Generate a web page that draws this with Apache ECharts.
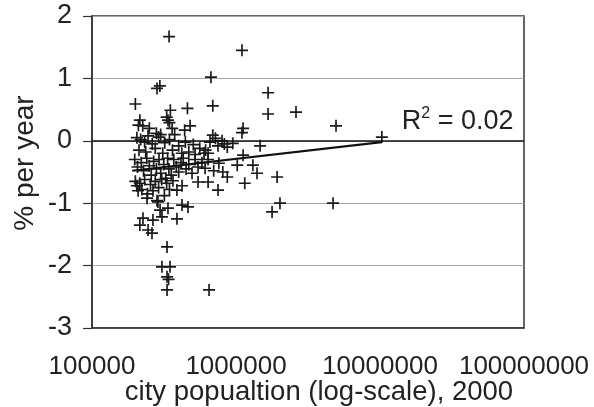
<!DOCTYPE html>
<html>
<head>
<meta charset="utf-8">
<script src="https://cdn.jsdelivr.net/npm/echarts@6/dist/echarts.min.js"></script>
<style>
html,body{margin:0;padding:0;background:#fff;}
#chart{width:594px;height:407px;}
</style>
</head>
<body>
<div id="chart"></div>
<script>
// City population (2000)
var population = [
343000,1100000,670000,296000,283000,1670000,200000,690000,460000,350000,
2610000,1670000,330000,337000,215000,345000,210000,225000,480000,4950000,
250000,360000,1120000,440000,1100000,280000,690000,290000,10300000,720000,
800000,950000,1470000,
205000,218000,232000,245000,262000,300000,320000,345000,375000,400000,
445000,505000,560000,615000,660000,750000,830000,870000,212000,236000,
275000,310000,362000,420000,470000,520000,600000,640000,1120000,
198000,207000,220000,228000,240000,250000,258000,268000,280000,292000,
300000,315000,325000,335000,342000,355000,370000,385000,400000,415000,
430000,450000,470000,495000,520000,545000,580000,610000,640000,700000,
760000,810000,1020000,1310000,1400000,1930000,870000,
200000,205000,215000,222000,232000,243000,255000,265000,275000,290000,
305000,318000,330000,345000,365000,389000,422000,545000,640000,750000,
1150000,241000,283000,209000,
287000,297000,306000,337000,389000,422000,464000,265000,226000,215000,
245000,261000,2020000,1780000,4720000,332000,306000,348000,332000,340000,
332000,650000
];
// Growth, % per year
var growth = [
1.67,1.45,1.02,0.88,0.84,0.77,0.59,0.56,0.52,0.49,
0.46,0.43,0.38,0.33,0.33,0.29,0.25,0.24,0.24,0.24,
0.20,0.20,0.20,0.17,0.13,0.12,0.09,0.06,0.06,0.04,
0.00,-0.04,-0.08,
0.05,0.02,-0.02,0.08,-0.05,0.10,-0.03,0.02,0.10,-0.08,
-0.02,-0.06,-0.12,-0.15,-0.02,-0.08,-0.05,-0.10,-0.15,-0.18,
-0.12,-0.20,-0.15,-0.20,-0.18,-0.22,-0.20,-0.20,-0.23,
-0.30,-0.42,-0.35,-0.48,-0.28,-0.40,-0.55,-0.33,-0.45,-0.30,
-0.52,-0.38,-0.60,-0.28,-0.45,-0.55,-0.30,-0.42,-0.50,-0.35,
-0.28,-0.45,-0.38,-0.52,-0.30,-0.42,-0.35,-0.44,-0.30,-0.48,
-0.36,-0.50,-0.39,-0.39,-0.52,-0.58,-0.58,
-0.65,-0.72,-0.68,-0.78,-0.62,-0.85,-0.70,-0.80,-0.65,-0.75,
-0.62,-0.88,-0.68,-0.78,-0.64,-0.79,-0.72,-0.66,-0.66,-0.79,
-0.68,-0.92,-0.96,-0.80,
-0.98,-1.11,-1.22,-1.08,-1.25,-1.03,-1.06,-1.27,-1.24,-1.35,
-1.43,-1.48,-1.00,-1.14,-1.00,-1.70,-2.02,-2.02,-2.18,-2.22,
-2.39,-2.39
];
// Logarithmic trend line end points
var trendPop = [190000, 10300000];
var trendGrowth = [-0.48, -0.02];
var xTickLabels = ['100000','1000000','10000000','100000000'];
var yTicks = [-3,-2,-1,0,1,2];
var rSquaredText = '0.02';

var pts = population.map(function(p,i){return [p, growth[i]];});
var trend = trendPop.map(function(p,i){return [p, trendGrowth[i]];});

var FONT = 'Liberation Sans';
var TXT = '#222';
var chart = echarts.init(document.getElementById('chart'), null, {renderer:'canvas'});
chart.setOption({
  animation:false,
  backgroundColor:'#fff',
  grid:{left:92,right:70,top:16,bottom:79,show:true,borderColor:'#333',borderWidth:1.5,
    backgroundColor:'transparent',containLabel:false,outerBoundsMode:'none'},
  xAxis:{
    type:'log', logBase:10, min:1e5, max:1e8,
    axisLine:{show:true,onZero:false,lineStyle:{color:'#333',width:1.5}},
    axisTick:{show:false},
    splitLine:{show:false},
    minorTick:{show:false},
    axisLabel:{fontFamily:FONT,fontSize:26,color:TXT,margin:26,
      formatter:function(v){return xTickLabels[Math.round(Math.log10(v))-5];}},
    name:'city popualtion (log-scale), 2000',
    nameLocation:'middle', nameGap:50, nameMoveOverlap:false,
    nameTextStyle:{fontFamily:FONT,fontSize:27.5,color:TXT,padding:[0,0,0,22]}
  },
  yAxis:{
    type:'value', min:yTicks[0], max:yTicks[yTicks.length-1], interval:1,
    axisLine:{show:true,lineStyle:{color:'#333',width:1.5}},
    axisTick:{show:true,inside:false,length:9,lineStyle:{color:'#333',width:1.2}},
    splitLine:{show:true,lineStyle:{color:'#a6a6a6',width:1}},
    axisLabel:{fontFamily:FONT,fontSize:27,color:TXT,margin:20},
    name:'% per year', nameLocation:'middle', nameRotate:90, nameGap:53, nameMoveOverlap:false,
    nameTextStyle:{fontFamily:FONT,fontSize:28,color:TXT,padding:[0,0,0,18]}
  },
  series:[
    {
      type:'scatter', data:pts,
      symbol:'path://M4.3,0H5.7V4.3H10V5.7H5.7V10H4.3V5.7H0V4.3H4.3Z',
      symbolSize:12,
      itemStyle:{color:'#1a1a1a',opacity:1},
      markLine:{silent:true,symbol:'none',label:{show:false},
        lineStyle:{color:'#111',width:1.5,type:'solid'},
        data:[{yAxis:0}]},
      z:3
    },
    {
      type:'line', data:trend, showSymbol:false, symbol:'none',
      lineStyle:{color:'#111',width:2.2},
      z:4,
      endLabel:{show:true, offset:[12,-21],
        formatter:'{a|R}{s|2}{a| = ' + rSquaredText + '}',
        rich:{
          a:{fontFamily:FONT,fontSize:27,color:TXT,lineHeight:30},
          s:{fontFamily:FONT,fontSize:16,color:TXT,verticalAlign:'top',lineHeight:30,padding:[0,0,14,0]}
        }
      }
    }
  ]
});
</script>
</body>
</html>
